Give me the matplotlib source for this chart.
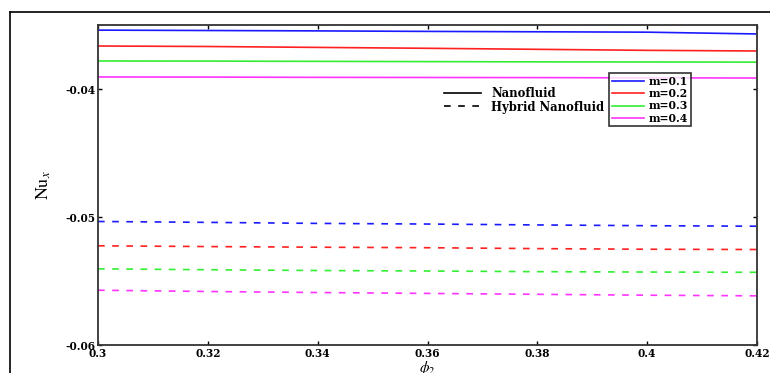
import numpy as np
import matplotlib.pyplot as plt
from matplotlib.lines import Line2D

plt.rcParams['font.family'] = ['DejaVu Serif']
plt.rcParams['mathtext.fontset'] = 'stix'

# phi_2 values
phi2 = [0.30, 0.32, 0.34, 0.36, 0.38, 0.40, 0.42]

# Nu_x, nanofluid (solid)
nano_m01 = [-0.03540, -0.03543, -0.03546, -0.03550, -0.03553, -0.03556, -0.03570]
nano_m02 = [-0.03664, -0.03668, -0.03675, -0.03682, -0.03690, -0.03698, -0.03703]
nano_m03 = [-0.03781, -0.03782, -0.03784, -0.03786, -0.03788, -0.03789, -0.03790]
nano_m04 = [-0.03906, -0.03907, -0.03909, -0.03910, -0.03911, -0.03913, -0.03914]

# hybrid nanofluid (dashed)
hyb_m01 = [-0.05035, -0.05042, -0.05050, -0.05055, -0.05062, -0.05068, -0.05072]
hyb_m02 = [-0.05225, -0.05231, -0.05236, -0.05240, -0.05247, -0.05252, -0.05254]
hyb_m03 = [-0.05405, -0.05412, -0.05418, -0.05422, -0.05427, -0.05430, -0.05432]
hyb_m04 = [-0.05572, -0.05582, -0.05590, -0.05597, -0.05604, -0.05611, -0.05616]

labels = ['m=0.1', 'm=0.2', 'm=0.3', 'm=0.4']
colors = ['#1a1aff', '#ff2020', '#33ee33', '#ff33ff']
dash = (0, (4, 4.5))

fig = plt.figure(figsize=(7.7, 3.73), dpi=100)
# outer frame of the picture
fig.add_artist(Line2D([10/770, 10/770], [0, 1 - 12/373], color='black', lw=1.2))
fig.add_artist(Line2D([10/770, 1], [1 - 12/373, 1 - 12/373], color='black', lw=1.2))

ax = fig.add_axes([98/770, 28/373, (757 - 98)/770, (345 - 25)/373])

for ys, c in zip([nano_m01, nano_m02, nano_m03, nano_m04], colors):
    ax.plot(phi2, ys, color=c, lw=1.2, linestyle='-')
for ys, c in zip([hyb_m01, hyb_m02, hyb_m03, hyb_m04], colors):
    ax.plot(phi2, ys, color=c, lw=1.2, linestyle=dash)

ax.set_xlim(0.3, 0.42)
ax.set_ylim(-0.06, -0.035)
ax.set_xticks([0.3, 0.32, 0.34, 0.36, 0.38, 0.4, 0.42])
ax.set_xticklabels(['0.3', '0.32', '0.34', '0.36', '0.38', '0.4', '0.42'])
ax.set_yticks([-0.06, -0.05, -0.04])
ax.set_yticklabels(['-0.06', '-0.05', '-0.04'])
ax.tick_params(direction='in', top=True, right=True, length=3, width=1,
               labelsize=7.6, pad=2)
for lab in ax.get_xticklabels() + ax.get_yticklabels():
    lab.set_fontweight('bold')
for sp in ax.spines.values():
    sp.set_linewidth(1.3)
    sp.set_color('#333333')

ax.set_ylabel(r'$\mathrm{Nu}_x$', fontsize=13)
ax.yaxis.set_label_coords(-0.068, 0.5)
ax.set_xlabel(r'$\phi_2$', fontsize=11, labelpad=0)

# legend for m
m_handles = [Line2D([0], [0], color=c, lw=1.2) for c in colors]
leg1 = ax.legend(m_handles, labels, loc='upper left',
                 bbox_to_anchor=(609/770, 1 - 73/373), bbox_transform=fig.transFigure,
                 prop={'weight': 'bold', 'size': 7.8}, frameon=True, fancybox=False,
                 edgecolor='black', handlelength=3.0, labelspacing=0.12,
                 borderpad=0.25, handletextpad=0.4, borderaxespad=0)
leg1.get_frame().set_linewidth(1.2)
ax.add_artist(leg1)

# legend for fluid type
t_handles = [Line2D([0], [0], color='black', lw=1.2, linestyle='-'),
             Line2D([0], [0], color='black', lw=1.2, linestyle=dash)]
ax.legend(t_handles, ['Nanofluid', 'Hybrid Nanofluid'], loc='upper left',
          bbox_to_anchor=(444/770, 1 - 87/373), bbox_transform=fig.transFigure,
          prop={'weight': 'bold', 'size': 8.4}, frameon=False,
          handlelength=3.2, labelspacing=0.05, handletextpad=0.85,
          borderpad=0, borderaxespad=0)

fig.savefig('out.png', dpi=100)
